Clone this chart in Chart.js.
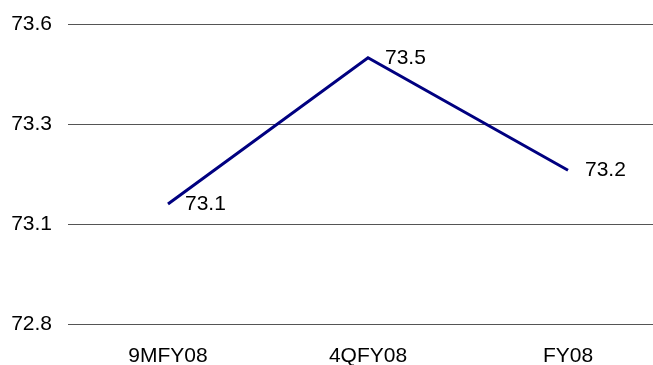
<!DOCTYPE html>
<html>
<head>
<meta charset="utf-8">
<script src="https://cdn.jsdelivr.net/npm/chart.js@4"></script>
<style>
  html, body { margin: 0; padding: 0; background: #fff; overflow: hidden; }
  #wrap { width: 668px; height: 365px; }
</style>
</head>
<body>
<div id="wrap"><canvas id="c" width="668" height="365"></canvas></div>
<script>
// categories and values
const categories = ['9MFY08', '4QFY08', 'FY08'];
const values = [73.12, 73.51, 73.21];
const valueLabels = ['73.1', '73.5', '73.2'];
const yMin = 72.8;
const yMax = 73.6;

const FONT = 'Liberation Sans, Arial, sans-serif';
const SIZE = 21;

// data labels to the right of each point
const pointLabels = {
  id: 'pointLabels',
  afterDatasetsDraw(chart) {
    const ctx = chart.ctx;
    const meta = chart.getDatasetMeta(0);
    ctx.save();
    ctx.font = SIZE + 'px ' + FONT;
    ctx.fillStyle = '#000';
    ctx.textAlign = 'left';
    ctx.textBaseline = 'middle';
    meta.data.forEach((pt, i) => {
      ctx.fillText(valueLabels[i], pt.x + 17, pt.y);
    });
    ctx.restore();
  }
};

new Chart(document.getElementById('c'), {
  type: 'line',
  data: {
    labels: categories,
    datasets: [{
      data: values,
      borderColor: '#000080',
      borderWidth: 3,
      pointRadius: 0,
      tension: 0,
      fill: false
    }]
  },
  options: {
    responsive: false,
    animation: false,
    layout: { padding: { top: 24, right: 0, left: 0, bottom: 0 } },
    plugins: { legend: { display: false }, tooltip: { enabled: false } },
    scales: {
      x: {
        offset: true,
        grid: { display: false },
        border: { display: false },
        ticks: { color: '#000', font: { family: FONT, size: SIZE }, padding: 12, maxRotation: 0 },
        afterFit(s) { s.height = 41; s.paddingLeft = 0; s.paddingRight = 0; }
      },
      y: {
        min: yMin,
        max: yMax,
        grid: { color: '#555', lineWidth: 1, drawTicks: false },
        border: { display: false },
        ticks: {
          stepSize: (yMax - yMin) / 3,
          color: '#000',
          font: { family: FONT, size: SIZE },
          padding: 16,
          callback: v => v.toFixed(1)
        },
        afterFit(s) { s.width = 68; s.paddingTop = 0; s.paddingBottom = 0; }
      }
    }
  },
  plugins: [pointLabels]
});
</script>
</body>
</html>
